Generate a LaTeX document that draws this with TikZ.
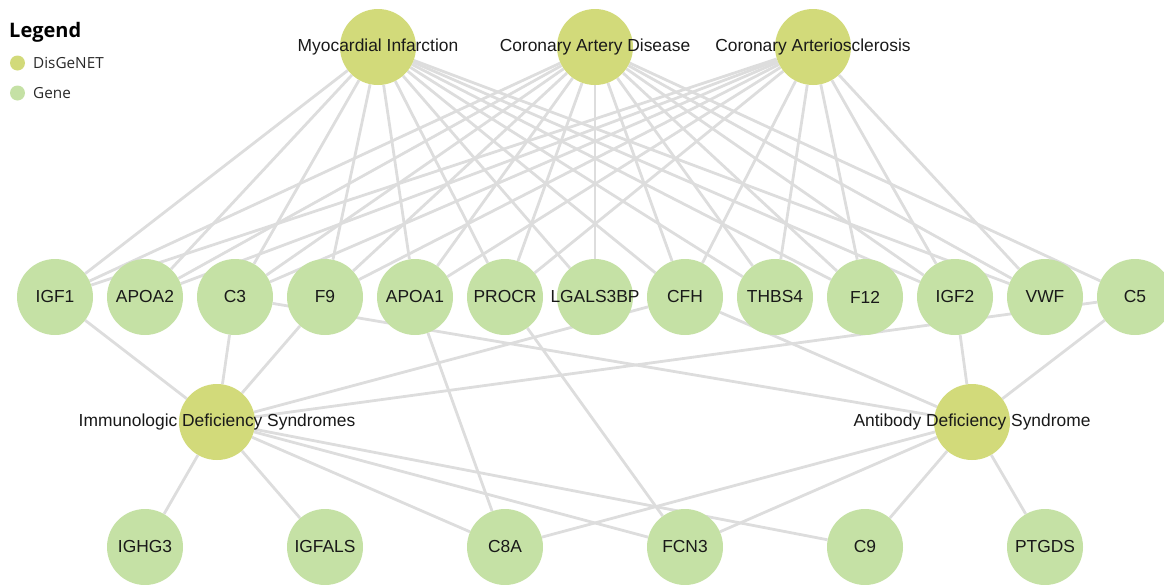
\documentclass[tikz,border=0pt]{standalone}
\usepackage{fontspec}
\setmainfont{Liberation Sans}
\newfontfamily\legendfont{Open Sans}
\usetikzlibrary{backgrounds}
\definecolor{disc}{RGB}{210,218,122}
\definecolor{genec}{RGB}{197,225,165}
\definecolor{edgec}{RGB}{221,221,221}
\definecolor{txt}{RGB}{25,25,25}
\definecolor{legtxt}{RGB}{40,40,40}
\begin{document}
\begin{tikzpicture}[x=1pt,y=-1pt,
  dis/.style={circle,fill=disc,minimum size=76pt,inner sep=0pt},
  gene/.style={circle,fill=genec,minimum size=76pt,inner sep=0pt},
  lab/.style={font=\fontsize{17.4}{20}\selectfont,text=txt,inner sep=0pt},
  edge/.style={draw=edgec,line width=2.8pt},
  legdot/.style={circle,minimum size=15pt,inner sep=0pt},
  legtext/.style={anchor=west,font=\legendfont\fontsize{15.3}{18}\selectfont,text=legtxt,inner sep=0pt}]
\useasboundingbox (0,0) rectangle (1164,584);

% legend
\node[anchor=west,inner sep=0pt,font=\legendfont\bfseries\fontsize{20}{24}\selectfont,text=black] (legtitle) at (9,32) {Legend};
\node[legdot,fill=disc] (legdis) at (17.5,63) {};
\node[legtext] (legdistext) at (33,63) {DisGeNET};
\node[legdot,fill=genec] (leggene) at (17.5,93) {};
\node[legtext] (leggenetext) at (33,93) {Gene};

% disease nodes
\node[dis,label={[lab]center:Myocardial Infarction}] (mi) at (378,47) {};
\node[dis,label={[lab]center:Coronary Artery Disease}] (cad) at (595,47) {};
\node[dis,label={[lab]center:Coronary Arteriosclerosis}] (ca) at (813,47) {};
\node[dis,label={[lab]center:Immunologic Deficiency Syndromes}] (ids) at (217,422) {};
\node[dis,label={[lab]center:Antibody Deficiency Syndrome}] (ads) at (972,422) {};

% middle genes
\node[gene,label={[lab]center:IGF1}] (igf1) at (55,297) {};
\node[gene,label={[lab]center:APOA2}] (apoa2) at (145,297) {};
\node[gene,label={[lab]center:C3}] (c3) at (235,297) {};
\node[gene,label={[lab]center:F9}] (f9) at (325,297) {};
\node[gene,label={[lab]center:APOA1}] (apoa1) at (415,297) {};
\node[gene,label={[lab]center:PROCR}] (procr) at (505,297) {};
\node[gene,label={[lab]center:LGALS3BP}] (lgals) at (595,297) {};
\node[gene,label={[lab]center:CFH}] (cfh) at (685,297) {};
\node[gene,label={[lab]center:THBS4}] (thbs4) at (775,297) {};
\node[gene,label={[lab]center:F12}] (f12) at (865,297) {};
\node[gene,label={[lab]center:IGF2}] (igf2) at (955,297) {};
\node[gene,label={[lab]center:VWF}] (vwf) at (1045,297) {};
\node[gene,label={[lab]center:C5}] (c5) at (1135,297) {};

% bottom genes
\node[gene,label={[lab]center:IGHG3}] (ighg3) at (145,547) {};
\node[gene,label={[lab]center:IGFALS}] (igfals) at (325,547) {};
\node[gene,label={[lab]center:C8A}] (c8a) at (505,547) {};
\node[gene,label={[lab]center:FCN3}] (fcn3) at (685,547) {};
\node[gene,label={[lab]center:C9}] (c9) at (865,547) {};
\node[gene,label={[lab]center:PTGDS}] (ptgds) at (1045,547) {};

\begin{scope}[on background layer]
\foreach \a/\b in {mi/igf1,mi/apoa2,mi/c3,mi/f9,mi/apoa1,mi/procr,mi/lgals,mi/cfh,mi/thbs4,mi/f12,mi/igf2,mi/vwf,
  cad/igf1,cad/apoa2,cad/c3,cad/f9,cad/apoa1,cad/procr,cad/lgals,cad/cfh,cad/thbs4,cad/f12,cad/igf2,cad/vwf,cad/c5,
  ca/igf1,ca/apoa2,ca/c3,ca/f9,ca/apoa1,ca/procr,ca/cfh,ca/thbs4,ca/f12,ca/igf2,ca/vwf,
  ids/igf1,ids/c3,ids/f9,ids/cfh,ids/c5,ids/ighg3,ids/igfals,ids/c8a,ids/fcn3,ids/c9,
  ads/c3,ads/cfh,ads/igf2,ads/c5,ads/c8a,ads/fcn3,ads/c9,ads/ptgds,
  apoa1/c8a,procr/fcn3}
  \draw[edge] (\a) -- (\b);
\end{scope}
\end{tikzpicture}
\end{document}
